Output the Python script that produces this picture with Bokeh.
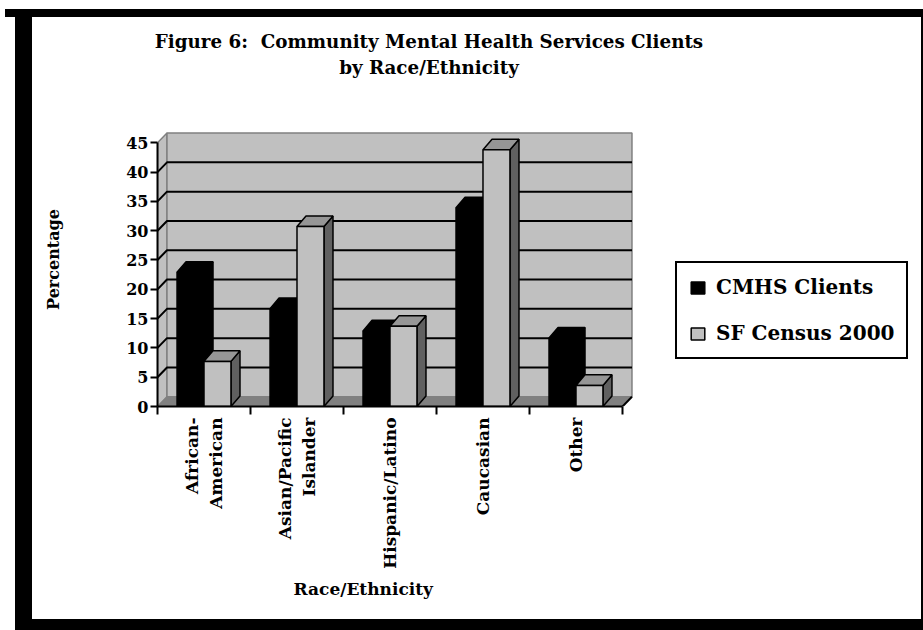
import math
import numpy as np
from bokeh.plotting import figure
from bokeh.layouts import column
from bokeh.models import Div, FixedTicker, Legend, LegendItem, Range1d, Title, InlineStyleSheet
from bokeh.embed import file_html
from bokeh.resources import INLINE

# ---- data -------------------------------------------------------------
categories = ["African-\nAmerican", "Asian/Pacific\nIslander", "Hispanic/Latino",
              "Caucasian", "Other"]
cmhs_clients = [22.9, 16.7, 12.9, 33.9, 11.7]
sf_census_2000 = [7.7, 30.7, 13.7, 43.8, 3.6]
series_labels = ["CMHS Clients", "SF Census 2000"]
y_ticks = [0, 5, 10, 15, 20, 25, 30, 35, 40, 45]
title_lines = ["Figure 6:  Community Mental Health Services Clients", "by Race/Ethnicity"]

# ---- style ------------------------------------------------------------
FONT = "DejaVu Serif"
WALL = "#c0c0c0"
WALL_EDGE = "#808080"
FLOOR = "#808080"
HEADER_H = 84

n = len(categories)
y_max = y_ticks[-1]

# depth of the chart box and of the columns (x in category units, y in percent)
DX, DY = 0.102, 1.66
BDX, BDY = 0.097, 1.8
BAR_W = 0.29
OFFSETS = [0.21, 0.50]

# ---- heading ----------------------------------------------------------
header = Div(
    text="<br>".join(title_lines),
    width=923, height=HEADER_H, margin=0,
    styles={"font-family": "'DejaVu Serif'", "font-weight": "bold",
            "font-size": "18.3px", "line-height": "26px", "color": "black",
            "white-space": "pre", "text-align": "center",
            "box-sizing": "border-box", "padding-top": "29px",
            "padding-left": "129px", "padding-right": "194px"})

# ---- chart ------------------------------------------------------------
p = figure(width=923, height=630 - HEADER_H,
           x_range=Range1d(0, 8.097), y_range=Range1d(0, 50.17),
           min_border_left=157, min_border_right=13,
           min_border_top=112 - HEADER_H, min_border_bottom=224,
           output_backend="svg", toolbar_location=None, title=None, margin=0)
p.background_fill_color = "white"
p.border_fill_color = "white"
p.outline_line_color = None
p.xgrid.visible = False
p.ygrid.visible = False

# walls and floor
p.patch([0, DX, DX, 0], [0, DY, y_max + DY, y_max],
        fill_color=WALL, line_color=WALL_EDGE, line_width=1.5)
p.quad(left=DX, right=n + DX, bottom=DY, top=y_max + DY,
       fill_color=WALL, line_color=WALL_EDGE, line_width=1.5)
p.patch([0, n, n + DX, DX], [0, 0, DY, DY],
        fill_color=FLOOR, line_color=FLOOR, line_width=1)
p.segment(x0=[n], y0=[0], x1=[n + DX], y1=[DY], line_color="black", line_width=2)

grid_vals = [v for v in y_ticks if 0 < v < y_max]
p.multi_line(xs=[[0, DX, n + DX] for _ in grid_vals],
             ys=[[v, v + DY, v + DY] for v in grid_vals],
             line_color="black", line_width=2)


# 3-D columns
def columns(values, offset, front, top, side):
    v = np.asarray(values, dtype=float)
    left = np.arange(n) + offset
    right = left + BAR_W
    side_xs = [[r, r + BDX, r + BDX, r] for r in right]
    side_ys = [[0, BDY, h + BDY, h] for h in v]
    top_xs = [[l, r, r + BDX, l + BDX] for l, r in zip(left, right)]
    top_ys = [[h, h, h + BDY, h + BDY] for h in v]
    p.patches(side_xs, side_ys, fill_color=side, line_color="black", line_width=1.5)
    p.patches(top_xs, top_ys, fill_color=top, line_color="black", line_width=1.5)
    return p.quad(left=left, right=right, bottom=0, top=v,
                  fill_color=front, line_color="black", line_width=1.5)


r_cmhs = columns(cmhs_clients, OFFSETS[0], "black", "black", "black")
r_sf = columns(sf_census_2000, OFFSETS[1], "#c0c0c0", "#969696", "#606060")

# axes
yax = p.yaxis[0]
yax.ticker = FixedTicker(ticks=y_ticks)
yax.bounds = (0, y_max)
yax.axis_line_width = 2
yax.axis_line_color = "black"
yax.major_tick_in = 0
yax.major_tick_out = 7
yax.major_tick_line_width = 2
yax.minor_tick_line_color = None
yax.major_label_standoff = 2
yax.major_label_text_font = FONT
yax.major_label_text_font_style = "bold"
yax.major_label_text_font_size = "16px"
yax.major_label_text_color = "black"
yax.axis_label = "Percentage"
yax.axis_label_text_font = FONT
yax.axis_label_text_font_style = "bold"
yax.axis_label_text_font_size = "16px"
yax.axis_label_text_color = "black"
yax.axis_label_standoff = 60

xax = p.xaxis[0]
centers = [float(i) + 0.5 for i in range(n)]
xax.ticker = FixedTicker(ticks=centers, minor_ticks=[float(i) for i in range(n + 1)])
xax.major_label_overrides = {c: lab for c, lab in zip(centers, categories)}
xax.bounds = (0, n)
xax.axis_line_width = 2
xax.axis_line_color = "black"
xax.major_tick_in = 0
xax.major_tick_out = 0
xax.major_tick_line_color = None
xax.minor_tick_in = 0
xax.minor_tick_out = 8
xax.minor_tick_line_width = 2
xax.minor_tick_line_color = "black"
xax.major_label_orientation = math.pi / 2
xax.major_label_standoff = 3
xax.major_label_text_font = FONT
xax.major_label_text_font_style = "bold"
xax.major_label_text_font_size = "17px"
xax.major_label_text_color = "black"

p.add_layout(Title(text="Race/Ethnicity", align="left", offset=136, standoff=10,
                   text_font=FONT, text_font_style="bold", text_font_size="17px",
                   text_color="black"), "below")

# legend
legend = Legend(items=[LegendItem(label=series_labels[0], renderers=[r_cmhs]),
                       LegendItem(label=series_labels[1], renderers=[r_sf])],
                location=(518, 47), margin=0, padding=12, spacing=22,
                glyph_width=17, glyph_height=15, label_height=24, label_standoff=10,
                label_text_font=FONT, label_text_font_style="bold",
                label_text_font_size="20px", label_text_color="black",
                border_line_color="black", border_line_width=2, border_line_alpha=1,
                background_fill_color="white", background_fill_alpha=1)
p.add_layout(legend)

# ---- page with its frame ----------------------------------------------
page = column(header, p, spacing=0, margin=0)
page.stylesheets = [InlineStyleSheet(css="""
:host { position: relative; background: white; }
:host::after {
  content: "";
  position: absolute;
  left: 0; top: 0; width: 923px; height: 630px;
  pointer-events: none;
  z-index: 10;
  background:
    linear-gradient(#000, #000) 15px 9px / 17px 621px no-repeat,
    linear-gradient(#000, #000) 5px 9px / 918px 8px no-repeat,
    linear-gradient(#000, #000) 921px 9px / 2px 621px no-repeat,
    linear-gradient(#000, #000) 15px 619px / 908px 11px no-repeat;
}
""")]

open("out.html", "w").write(file_html(page, INLINE))
